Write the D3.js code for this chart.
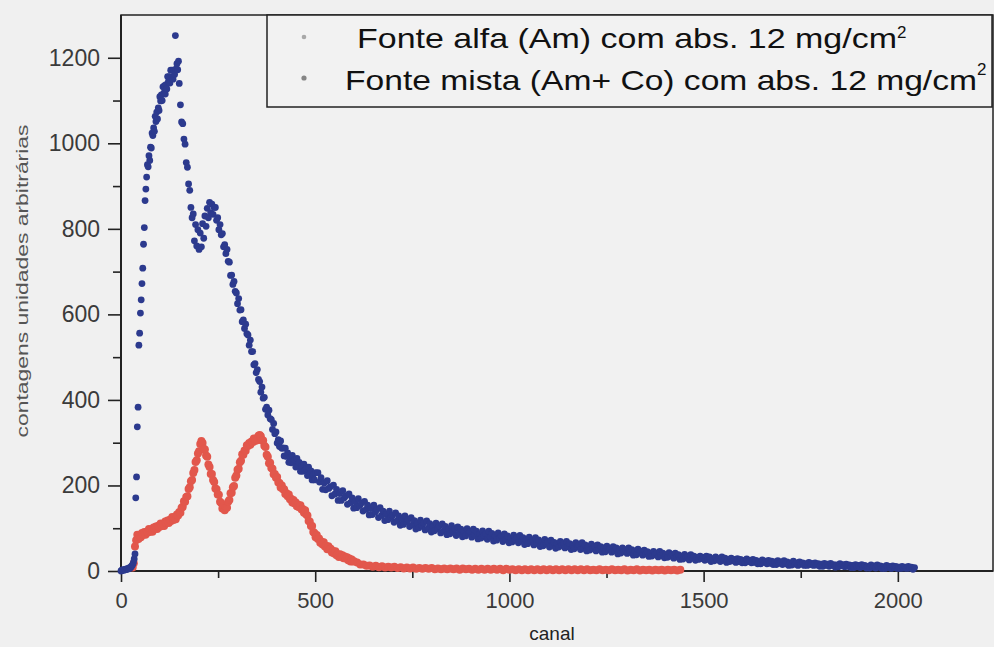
<!DOCTYPE html>
<html>
<head>
<meta charset="utf-8">
<script src="https://cdn.jsdelivr.net/npm/d3@7"></script>
<style>
  html, body { margin: 0; padding: 0; background: #f0f0f0; }
  svg { display: block; font-family: "Liberation Sans", Arial, sans-serif; }
</style>
</head>
<body>
<svg id="chart" width="994" height="647"></svg>
<script>
// Espectro da fonte mista (Am + Co): contagens por canal, em três trechos de passo fixo
const mistaPasso2 = [ // canais 0–150, passo 2
  0,2,1,3,2,4,3,5,4,6, 5,8,7,10,12,15,20,28,40,171,
  220,337,383,528,556,603,634,672,708,764,
  803,866,893,921,
  950,945,971,960,991,989,1024,1018,1036,1028,
  1063,1051,1073,1057,1083,1077,1109,1099,1113,1100,
  1132,1117,1135,1115,1137,1127,1156,1144,1156,1141,
  1171,1154,1171,1150,1171,1161,1252,1174,1186,1172,
  1192,1140
];
const mistaPasso3 = [ // canais 153–501, passo 3
  1090,1050,1046,1010,998,955,944,905,890,850,
  826,835,772,810,760,798,752,790,758,812,
  778,830,806,848,826,862,838,858,834,850,
  850,820,826,798,810,786,789,758,763,742,
  752,724,722,691,692,670,677,654,650,625,
  637,610,611,583,587,567,577,555,552,528,
  540,513,513,482,485,464,471,448,443,418,
  430,404,406,378,383,365,376,356,354,331,
  345,321,325,299,307,291,304,287,288,269,
  287,268,276,254,265,253,270,256,260,243,
  263,245,254,233,245,233,250,236,240,223,
  243,225,234,213,225,213,230
];
const mistaPasso4 = [ // canais 507–2043, passo 4
  230,208,218,191,206,190,211,193,197,176,
  201,180,191,165,181,165,188,171,176,156,
  180,160,171,147,162,148,169,153,159,140,
  163,144,154,131,146,132,154,138,144,125,
  148,130,140,118,133,120,140,126,130,114,
  136,118,129,107,122,109,129,115,120,104,
  125,108,118,98,112,101,119,106,112,96,
  117,100,111,91,104,94,112,99,105,89,
  110,94,104,85,98,87,106,93,99,83,
  103,89,98,80,92,82,99,88,92,79,
  98,84,93,75,87,77,94,83,87,74,
  93,79,88,70,82,72,89,78,82,69,
  87,74,82,66,77,68,84,73,78,66,
  83,70,78,62,73,64,79,69,73,61,
  78,65,73,57,68,59,74,64,68,56,
  72,60,67,53,64,56,69,60,65,54,
  69,57,64,50,61,52,66,57,61,50,
  66,53,61,47,57,49,63,53,58,47,
  61,51,57,44,54,45,58,50,53,44,
  57,47,54,40,50,42,54,46,50,41,
  54,44,50,37,47,38,51,43,46,37,
  49,40,45,34,42,35,46,39,42,33,
  46,36,42,31,38,32,43,35,39,30,
  42,33,38,27,35,28,39,32,35,26,
  38,30,35,25,32,27,35,29,32,25,
  35,27,33,22,29,24,33,26,29,22,
  33,25,30,20,27,22,30,24,27,20,
  29,22,27,19,25,19,28,22,25,19,
  27,20,25,17,22,17,26,20,23,17,
  25,18,23,15,21,15,24,18,21,15,
  24,17,21,13,19,14,23,16,19,13,
  21,16,19,13,17,13,20,15,18,13,
  19,14,17,11,16,11,18,13,16,11,
  18,13,15,9,14,10,17,12,15,10,
  16,11,14,8,13,8,15,10,13,8,
  15,10,13,7,11,7,14,9,12,7,
  14,9,12,6,10,6,13,8,11,6,
  12,8,11,6,9,6,11,7,9,6,
  11,7,9,4,8
];

// Espectro da fonte alfa (Am)
const alfaPasso3 = [ // canais 30–600, passo 3
  8,18,57,72,85,75,83,79,89,85,
  91,85,92,90,98,92,97,92,102,99,
  104,98,106,103,111,105,110,105,116,112,
  118,112,120,117,126,119,125,121,132,130,
  138,136,148,150,163,162,173,175,192,196,
  210,213,229,236,255,259,275,280,297,304,
  299,286,284,270,267,249,243,227,227,213,
  208,193,191,179,178,162,159,146,150,142,
  149,148,162,166,182,183,196,199,218,223,
  237,239,254,258,273,272,282,281,294,292,
  299,295,303,301,310,304,310,306,316,318,
  315,305,305,293,290,272,267,252,253,241,
  239,226,227,218,220,207,206,195,200,191,
  191,180,182,175,179,168,169,160,166,158,
  160,151,155,149,154,144,145,136,142,132,
  130,117,116,105,105,91,89,79,84,75,
  76,66,69,62,67,57,59,51,58,50,
  52,43,47,41,46,37,39,33,39,34,
  37,30,34,29,32,25,29,22,27,22,
  23
];
const alfaPasso8 = [ // canais 608–1440, passo 8
  20,15,15,12,13,10,12,9,11,8,
  10,8,10,7,9,6,8,6,8,5,
  7,5,7,5,7,4,6,4,6,4,
  6,4,6,3,6,4,5,3,5,3,
  5,3,5,3,5,3,5,2,5,3,
  4,2,4,2,4,2,4,2,4,2,
  4,2,4,2,4,2,4,2,4,2,
  4,2,4,2,4,2,3,2,4,2,
  3,2,4,2,3,2,4,1,3,2,
  4,1,3,2,3,1,3,2,3,1,
  3,2,3,1,3
];

// Trechos: [canal inicial, passo, contagens]
const mistaTrechos = [[0, 2, mistaPasso2], [153, 3, mistaPasso3], [507, 4, mistaPasso4]];
const alfaTrechos = [[30, 3, alfaPasso3], [608, 8, alfaPasso8]];

const xTicks = [0, 500, 1000, 1500, 2000];
const xTicksMenores = [250, 750, 1250, 1750];
const yTicks = [0, 200, 400, 600, 800, 1000, 1200];
const yTicksMenores = [100, 300, 500, 700, 900, 1100];
const legendas = ["Fonte alfa (Am) com abs. 12 mg/cm", "Fonte mista (Am+ Co) com abs. 12 mg/cm"];
const tituloX = "canal";
const tituloY = "contagens unidades arbitrárias";

const corAlfa = "#e2574c";
const corMista = "#2c3a8e";
const corEixo = "#222";
const fonte = "Liberation Sans, Arial, sans-serif";

function pontos(trechos) {
  return trechos.flatMap(([inicio, passo, valores]) =>
    valores.map((v, i) => ({ canal: inicio + i * passo, contagens: v })));
}
const alfa = pontos(alfaTrechos);
const mista = pontos(mistaTrechos);

const svg = d3.select("#chart");
const x = d3.scaleLinear().domain([0, 2245]).range([121, 993]);
const y = d3.scaleLinear().domain([0, 1300]).range([571, 15]);
const formato = d3.format("d");

// Moldura da área do gráfico
svg.append("rect")
  .attr("x", x(0)).attr("y", y(1300))
  .attr("width", x(2245) - x(0)).attr("height", y(0) - y(1300))
  .attr("fill", "#f1f1f1").attr("stroke", corEixo).attr("stroke-width", 1.5);

function estilizaEixo(g, tamanho) {
  g.attr("font-family", fonte).attr("font-size", tamanho);
  g.select(".domain").remove();
  g.selectAll("line").attr("stroke", corEixo).attr("stroke-width", 1.6);
  g.selectAll("text").attr("fill", "#3a3a3a");
}

// Eixo X
const gx = svg.append("g").attr("transform", `translate(0,${y(0)})`)
  .call(d3.axisBottom(x).tickValues(xTicks).tickFormat(formato)
    .tickSize(11).tickPadding(10).tickSizeOuter(0));
estilizaEixo(gx, 22);
const gxm = svg.append("g").attr("transform", `translate(0,${y(0)})`)
  .call(d3.axisBottom(x).tickValues(xTicksMenores).tickSize(7).tickFormat(""));
estilizaEixo(gxm, 22);

// Eixo Y
const gy = svg.append("g").attr("transform", `translate(${x(0)},0)`)
  .call(d3.axisLeft(y).tickValues(yTicks).tickFormat(formato)
    .tickSize(13).tickPadding(8).tickSizeOuter(0));
estilizaEixo(gy, 23);
const gym = svg.append("g").attr("transform", `translate(${x(0)},0)`)
  .call(d3.axisLeft(y).tickValues(yTicksMenores).tickSize(8).tickFormat(""));
estilizaEixo(gym, 23);

// Linhas dos eixos
svg.append("line").attr("x1", x(0)).attr("x2", x(2245)).attr("y1", y(0)).attr("y2", y(0))
  .attr("stroke", corEixo).attr("stroke-width", 2);
svg.append("line").attr("x1", x(0)).attr("x2", x(0)).attr("y1", y(0)).attr("y2", y(1300))
  .attr("stroke", corEixo).attr("stroke-width", 2);

// Pontos dos espectros
svg.append("g").selectAll("circle").data(alfa).join("circle")
  .attr("cx", d => x(d.canal)).attr("cy", d => y(d.contagens))
  .attr("r", 4).attr("fill", corAlfa);
svg.append("g").selectAll("circle").data(mista).join("circle")
  .attr("cx", d => x(d.canal)).attr("cy", d => y(d.contagens))
  .attr("r", 3.4).attr("fill", corMista);

// Títulos dos eixos
svg.append("text").attr("x", 552).attr("y", 640).attr("text-anchor", "middle")
  .attr("font-family", fonte).attr("font-size", 19).attr("fill", "#222").text(tituloX);
svg.append("text").attr("transform", "translate(28,281) rotate(-90)").attr("text-anchor", "middle")
  .attr("font-family", fonte).attr("font-size", 16).attr("fill", "#555")
  .attr("textLength", 313).attr("lengthAdjust", "spacingAndGlyphs").text(tituloY);

// Legenda
const leg = svg.append("g");
leg.append("rect").attr("x", 267).attr("y", 15).attr("width", 725).attr("height", 92)
  .attr("fill", "#f2f2f2").attr("stroke", corEixo).attr("stroke-width", 1.5);
const legLinhas = [
  { cor: "#a8a8a8", r: 2.3, cy: 37, tx: 357, base: 48, comp: 540, sx: 897, sy: 38 },
  { cor: "#858585", r: 2.6, cy: 78, tx: 345, base: 90, comp: 632, sx: 977, sy: 75 }
];
legLinhas.forEach((l, i) => {
  leg.append("circle").attr("cx", 304).attr("cy", l.cy).attr("r", l.r).attr("fill", l.cor);
  leg.append("text").attr("x", l.tx).attr("y", l.base)
    .attr("font-family", fonte).attr("font-size", 28).attr("fill", "#111")
    .attr("textLength", l.comp).attr("lengthAdjust", "spacingAndGlyphs").text(legendas[i]);
  leg.append("text").attr("x", l.sx).attr("y", l.sy)
    .attr("font-family", fonte).attr("font-size", 17).attr("fill", "#111").text("2");
});
</script>
</body>
</html>
